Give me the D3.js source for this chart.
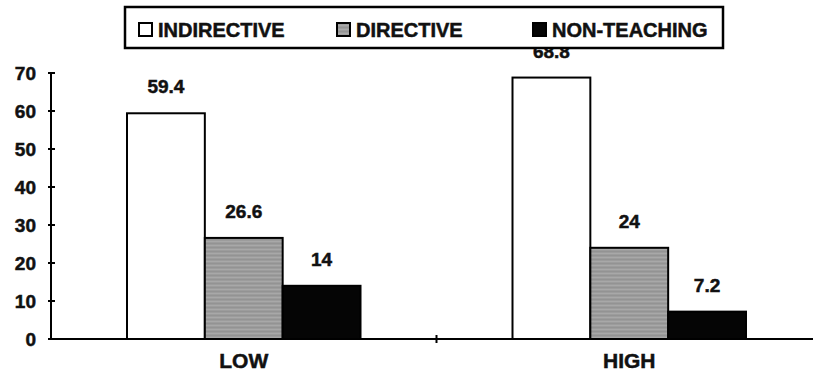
<!DOCTYPE html>
<html>
<head>
<meta charset="utf-8">
<script src="https://cdn.jsdelivr.net/npm/d3@7"></script>
<style>
  html, body { margin: 0; padding: 0; background: #fff; }
  svg { display: block; }
  text { font-family: "Liberation Sans", Arial, sans-serif; font-weight: bold; fill: #111;
         stroke: #111; stroke-width: 0.5px; }
</style>
</head>
<body>
<svg id="chart" width="813" height="377"></svg>
<script>
// Teaching style share (%) by group
const categories = ["LOW", "HIGH"];
const series = ["INDIRECTIVE", "DIRECTIVE", "NON-TEACHING"];
const indirective = [59.4, 68.8];
const directive = [26.6, 24];
const nonTeaching = [14, 7.2];
const yTicks = [0, 10, 20, 30, 40, 50, 60, 70];

const values = [indirective, directive, nonTeaching];
const fills = { "INDIRECTIVE": "#ffffff", "DIRECTIVE": "#9c9c9c", "NON-TEACHING": "#050505" };

const svg = d3.select("#chart");
const plotLeft = 51, plotRight = 822, plotTop = 73, plotBottom = 339;

const y = d3.scaleLinear().domain([0, 70]).range([plotBottom, plotTop]);
const x0 = d3.scaleBand().domain(categories).range([plotLeft, plotRight]);
const bw = x0.bandwidth();
const x1 = d3.scaleBand().domain(series).range([76, bw - 76]);

// grainy texture for the grey bars
const defs = svg.append("defs");
const pat = defs.append("pattern").attr("id", "grain")
  .attr("patternUnits", "userSpaceOnUse").attr("width", 6).attr("height", 4);
pat.append("rect").attr("width", 6).attr("height", 4).attr("fill", "#9c9c9c");
pat.append("rect").attr("y", 1).attr("width", 6).attr("height", 1).attr("fill", "#a8a8a8");
pat.append("rect").attr("y", 3).attr("width", 6).attr("height", 1).attr("fill", "#939393");

const rows = [];
categories.forEach((c, i) => series.forEach((s, j) => rows.push({ c, s, v: values[j][i] })));

// bars
svg.append("g").selectAll("rect").data(rows).join("rect")
  .attr("x", d => x0(d.c) + x1(d.s))
  .attr("y", d => y(d.v))
  .attr("width", x1.bandwidth())
  .attr("height", d => y(0) - y(d.v))
  .attr("fill", d => d.s === "DIRECTIVE" ? "url(#grain)" : fills[d.s])
  .attr("stroke", "#000").attr("stroke-width", 2);

// value labels
svg.append("g").selectAll("text").data(rows).join("text")
  .attr("x", d => x0(d.c) + x1(d.s) + x1.bandwidth() / 2)
  .attr("y", d => y(d.v) - 20)
  .attr("text-anchor", "middle")
  .style("font-size", "19px")
  .text(d => d.v);

// y axis
const yAxis = svg.append("g");
yAxis.append("line").attr("x1", plotLeft).attr("x2", plotLeft).attr("y1", y(70)).attr("y2", y(0))
  .attr("stroke", "#000").attr("stroke-width", 2);
yAxis.selectAll("line.tick").data(yTicks).join("line").attr("class", "tick")
  .attr("x1", plotLeft - 3).attr("x2", plotLeft + 4)
  .attr("y1", d => y(d)).attr("y2", d => y(d))
  .attr("stroke", "#000").attr("stroke-width", 2);
yAxis.selectAll("text").data(yTicks).join("text")
  .attr("x", 36).attr("y", d => y(d)).attr("dy", "0.36em")
  .attr("text-anchor", "end")
  .style("font-size", "19px")
  .text(d => d);

// x axis
const xAxis = svg.append("g");
xAxis.append("line").attr("x1", plotLeft).attr("x2", plotRight).attr("y1", y(0)).attr("y2", y(0))
  .attr("stroke", "#000").attr("stroke-width", 2);
xAxis.selectAll("line.div").data(categories.slice(1)).join("line").attr("class", "div")
  .attr("x1", d => x0(d)).attr("x2", d => x0(d))
  .attr("y1", y(0) - 4).attr("y2", y(0) + 4)
  .attr("stroke", "#000").attr("stroke-width", 2);
xAxis.selectAll("text").data(categories).join("text")
  .attr("x", d => x0(d) + bw / 2)
  .attr("y", 368)
  .attr("text-anchor", "middle")
  .style("font-size", "21px")
  .text(d => d);

// legend (drawn last, over the plot)
const legend = svg.append("g");
legend.append("rect").attr("x", 125).attr("y", 7).attr("width", 598).attr("height", 41)
  .attr("fill", "#fff").attr("stroke", "#000").attr("stroke-width", 2.5);
const legX = [139, 337, 533];
const items = legend.selectAll("g").data(series).join("g")
  .attr("transform", (d, i) => `translate(${legX[i]},0)`);
items.append("rect").attr("x", 0).attr("y", 23).attr("width", 13).attr("height", 13)
  .attr("fill", d => d === "DIRECTIVE" ? "url(#grain)" : fills[d])
  .attr("stroke", "#000").attr("stroke-width", 2);
items.append("text").attr("x", 19).attr("y", 37)
  .style("font-size", "20px")
  .text(d => d);
</script>
</body>
</html>
